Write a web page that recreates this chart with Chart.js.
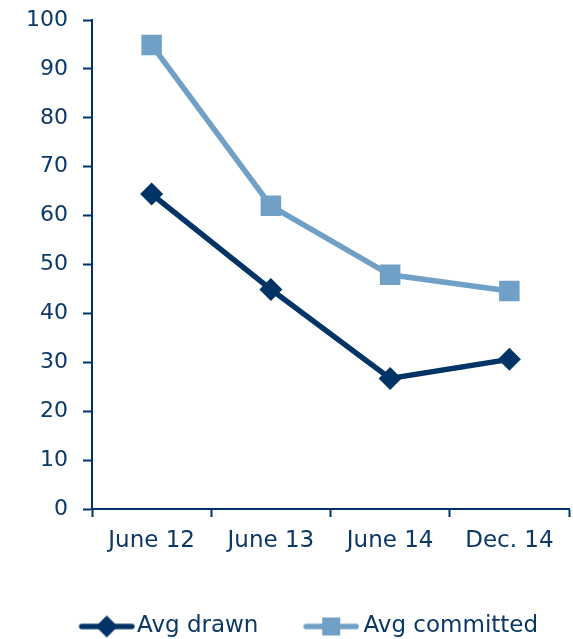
<!DOCTYPE html>
<html><head><meta charset="utf-8">
<script src="https://cdn.jsdelivr.net/npm/chart.js@4"></script>
<style>html,body{margin:0;padding:0;background:#fff;overflow:hidden}canvas{display:block}</style>
</head><body><canvas id="c" width="573" height="639"></canvas>
<script>
const categories = ["June 12", "June 13", "June 14", "Dec. 14"];
const avgDrawn = [64.4, 44.9, 26.7, 30.6];
const avgCommitted = [94.9, 62.0, 47.9, 44.6];
const yTicks = [0, 10, 20, 30, 40, 50, 60, 70, 80, 90, 100];

const NAVY = "#003366";
const LIGHT = "#70a0c6";
const TEXT = "#0b3866";
const FONT = "'DejaVu Sans', Verdana, sans-serif";

function legendImg(color, style, shift) {
  const W = 56 + 2 * Math.abs(shift);
  const c = document.createElement("canvas");
  c.width = W; c.height = 24;
  const g = c.getContext("2d");
  const x0 = (W - 56) / 2 + shift;
  g.strokeStyle = color; g.lineWidth = 5.5; g.lineCap = "round";
  g.beginPath(); g.moveTo(x0 + 3, 12); g.lineTo(x0 + 53, 12); g.stroke();
  g.fillStyle = color;
  if (style === "diamond") {
    g.beginPath(); g.moveTo(x0 + 28, 1); g.lineTo(x0 + 39, 12); g.lineTo(x0 + 28, 23); g.lineTo(x0 + 17, 12); g.closePath(); g.fill();
  } else {
    g.fillRect(x0 + 19, 3, 18, 18);
  }
  return c;
}
const legendImgs = [legendImg(NAVY, "diamond", 16), legendImg(LIGHT, "square", 14)];
const zeroPad = () => ({ left: 0, top: 0, right: 0, bottom: 0 });

new Chart(document.getElementById("c"), {
  type: "line",
  data: {
    labels: categories,
    datasets: [
      { label: "Avg drawn", data: avgDrawn, borderColor: NAVY, backgroundColor: NAVY, borderWidth: 5.5,
        pointStyle: "rectRot", pointRadius: 11.5, pointHoverRadius: 11.5, pointBorderWidth: 0, tension: 0 },
      { label: "Avg committed", data: avgCommitted, borderColor: LIGHT, backgroundColor: LIGHT, borderWidth: 5.5,
        pointStyle: "rect", pointRadius: 14.5, pointHoverRadius: 14.5, pointBorderWidth: 0, tension: 0 }
    ]
  },
  options: {
    responsive: false, animation: false, devicePixelRatio: 1,
    layout: { autoPadding: false, padding: { top: 20, right: 4, left: 32, bottom: 0 } },
    plugins: {
      tooltip: { enabled: false },
      legend: {
        position: "bottom",
        align: "start",
        maxHeight: 48,
        labels: {
          usePointStyle: true,
          pointStyleWidth: 69.5,
          padding: 24,
          color: TEXT,
          font: { family: FONT, size: 23 },
          generateLabels: (chart) => chart.data.datasets.map((ds, i) => ({
            text: ds.label, pointStyle: legendImgs[i], fillStyle: ds.borderColor,
            strokeStyle: ds.borderColor, lineWidth: 0, hidden: false, datasetIndex: i, fontColor: TEXT
          }))
        }
      }
    },
    scales: {
      x: {
        offset: true,
        afterFit: (s) => { s.height = 82; s.paddingLeft = 0; s.paddingRight = 0; s.getPadding = zeroPad; },
        grid: { offset: true, drawOnChartArea: false, drawTicks: true, tickLength: 8, tickColor: NAVY, tickWidth: 2 },
        border: { color: NAVY, width: 2 },
        ticks: { color: TEXT, font: { family: FONT, size: 23 }, padding: 10, maxRotation: 0 }
      },
      y: {
        min: 0, max: 100,
        afterBuildTicks: (s) => { s.ticks = yTicks.map(v => ({ value: v })); },
        afterFit: (s) => { s.width = 60; s.paddingTop = 0; s.paddingBottom = 0; s.getPadding = zeroPad; s._computeLabelArea = () => undefined; },
        grid: { drawOnChartArea: false, drawTicks: true, tickLength: 9, tickColor: NAVY, tickWidth: 2 },
        border: { color: NAVY, width: 2 },
        ticks: { color: TEXT, font: { family: FONT, size: 22 }, padding: 15 }
      }
    }
  }
});
</script></body></html>
